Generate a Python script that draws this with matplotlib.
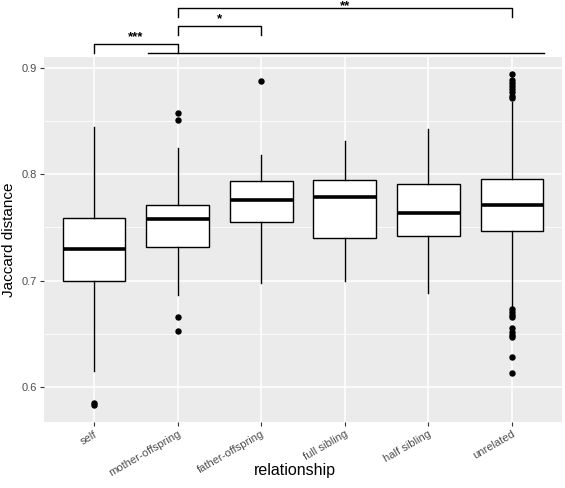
import matplotlib
matplotlib.use("Agg")
import matplotlib.pyplot as plt
from matplotlib.ticker import MultipleLocator

plt.rcParams['font.family'] = ['Liberation Sans', 'DejaVu Sans']

categories = ["self", "mother-offspring", "father-offspring",
              "full sibling", "half sibling", "unrelated"]

# five-number summaries
whisker_low = [0.615, 0.686, 0.698, 0.700, 0.688, 0.675]
q1 = [0.700, 0.732, 0.755, 0.740, 0.742, 0.747]
median = [0.730, 0.758, 0.776, 0.779, 0.764, 0.771]
q3 = [0.759, 0.771, 0.794, 0.795, 0.791, 0.796]
whisker_high = [0.844, 0.825, 0.818, 0.831, 0.843, 0.868]
outliers = [
    [0.585, 0.583],
    [0.858, 0.851, 0.666, 0.653],
    [0.888],
    [],
    [],
    [0.894, 0.889, 0.886, 0.883, 0.880, 0.877, 0.874, 0.872,
     0.673, 0.670, 0.668, 0.666, 0.655, 0.652, 0.649, 0.647, 0.628, 0.613],
]

# significance brackets: (left category, right category, label)
brackets = [(0, 1, "***"), (1, 2, "*"), (1, 5, "**")]
bracket_y = [0.9226, 0.9395, 0.9564]
tick_y = [0.9141, 0.931, 0.948]

stats = []
for i, c in enumerate(categories):
    stats.append(dict(label=c, whislo=whisker_low[i], q1=q1[i], med=median[i],
                      q3=q3[i], whishi=whisker_high[i], fliers=outliers[i]))

fig = plt.figure(figsize=(5.65, 4.88), dpi=100)
ax = fig.add_axes([44 / 565, 1 - 422 / 488, 518 / 565, 365 / 488])
ax.set_facecolor("#EBEBEB")

pos = list(range(len(categories)))
ax.bxp(stats, positions=pos, widths=0.75, patch_artist=True, showcaps=False,
       boxprops=dict(facecolor="white", edgecolor="black", linewidth=1.0),
       medianprops=dict(color="black", linewidth=2.6, solid_capstyle="butt"),
       whiskerprops=dict(color="black", linewidth=1.0),
       flierprops=dict(marker="o", markerfacecolor="black", markeredgecolor="black",
                       markersize=3.6, linestyle="none"),
       zorder=3)

ax.set_xlim(-0.6, len(categories) - 0.4)
ax.set_ylim(0.567, 0.9103)
ax.yaxis.set_major_locator(MultipleLocator(0.1))
ax.yaxis.set_minor_locator(MultipleLocator(0.05))
ax.grid(which="major", color="white", linewidth=1.1, zorder=0)
ax.grid(which="minor", axis="y", color="white", linewidth=0.55, zorder=0)
ax.set_axisbelow(True)
for s in ax.spines.values():
    s.set_visible(False)

ax.set_xticks(pos)
ax.set_xticklabels(categories, rotation=30, ha="right", va="top",
                   rotation_mode="anchor")
ax.set_yticks([0.6, 0.7, 0.8, 0.9])
ax.set_yticklabels(["0.6", "0.7", "0.8", "0.9"])
ax.tick_params(which="major", length=3, width=0.8, color="#333333",
               labelsize=8, labelcolor="#4D4D4D", pad=2)
ax.tick_params(which="minor", length=0)
ax.set_ylabel("Jaccard distance", fontsize=11, labelpad=4)
fig.text(295 / 565, 1 - 470 / 488, "relationship", ha="center", va="center",
         fontsize=11.5)

for (a, b, lab), yb, yt in zip(brackets, bracket_y, tick_y):
    ax.plot([a, a, b, b], [yt, yb, yb, yt], color="black", linewidth=1.0,
            clip_on=False)
    if yb > 0.95:
        # top bracket: its label sits against the top edge of the figure
        ax.annotate(lab, xy=((a + b) / 2, 1.0),
                    xycoords=("data", "figure fraction"),
                    ha="center", va="top", fontsize=9.5, fontweight="bold")
    else:
        ax.text((a + b) / 2, yb + 0.001, lab, ha="center", va="bottom",
                fontsize=9.5, fontweight="bold", clip_on=False)
ax.plot([0.647, 5.38], [0.9141, 0.9141], color="black", linewidth=1.0,
        clip_on=False)

fig.savefig("out.png", dpi=100)
